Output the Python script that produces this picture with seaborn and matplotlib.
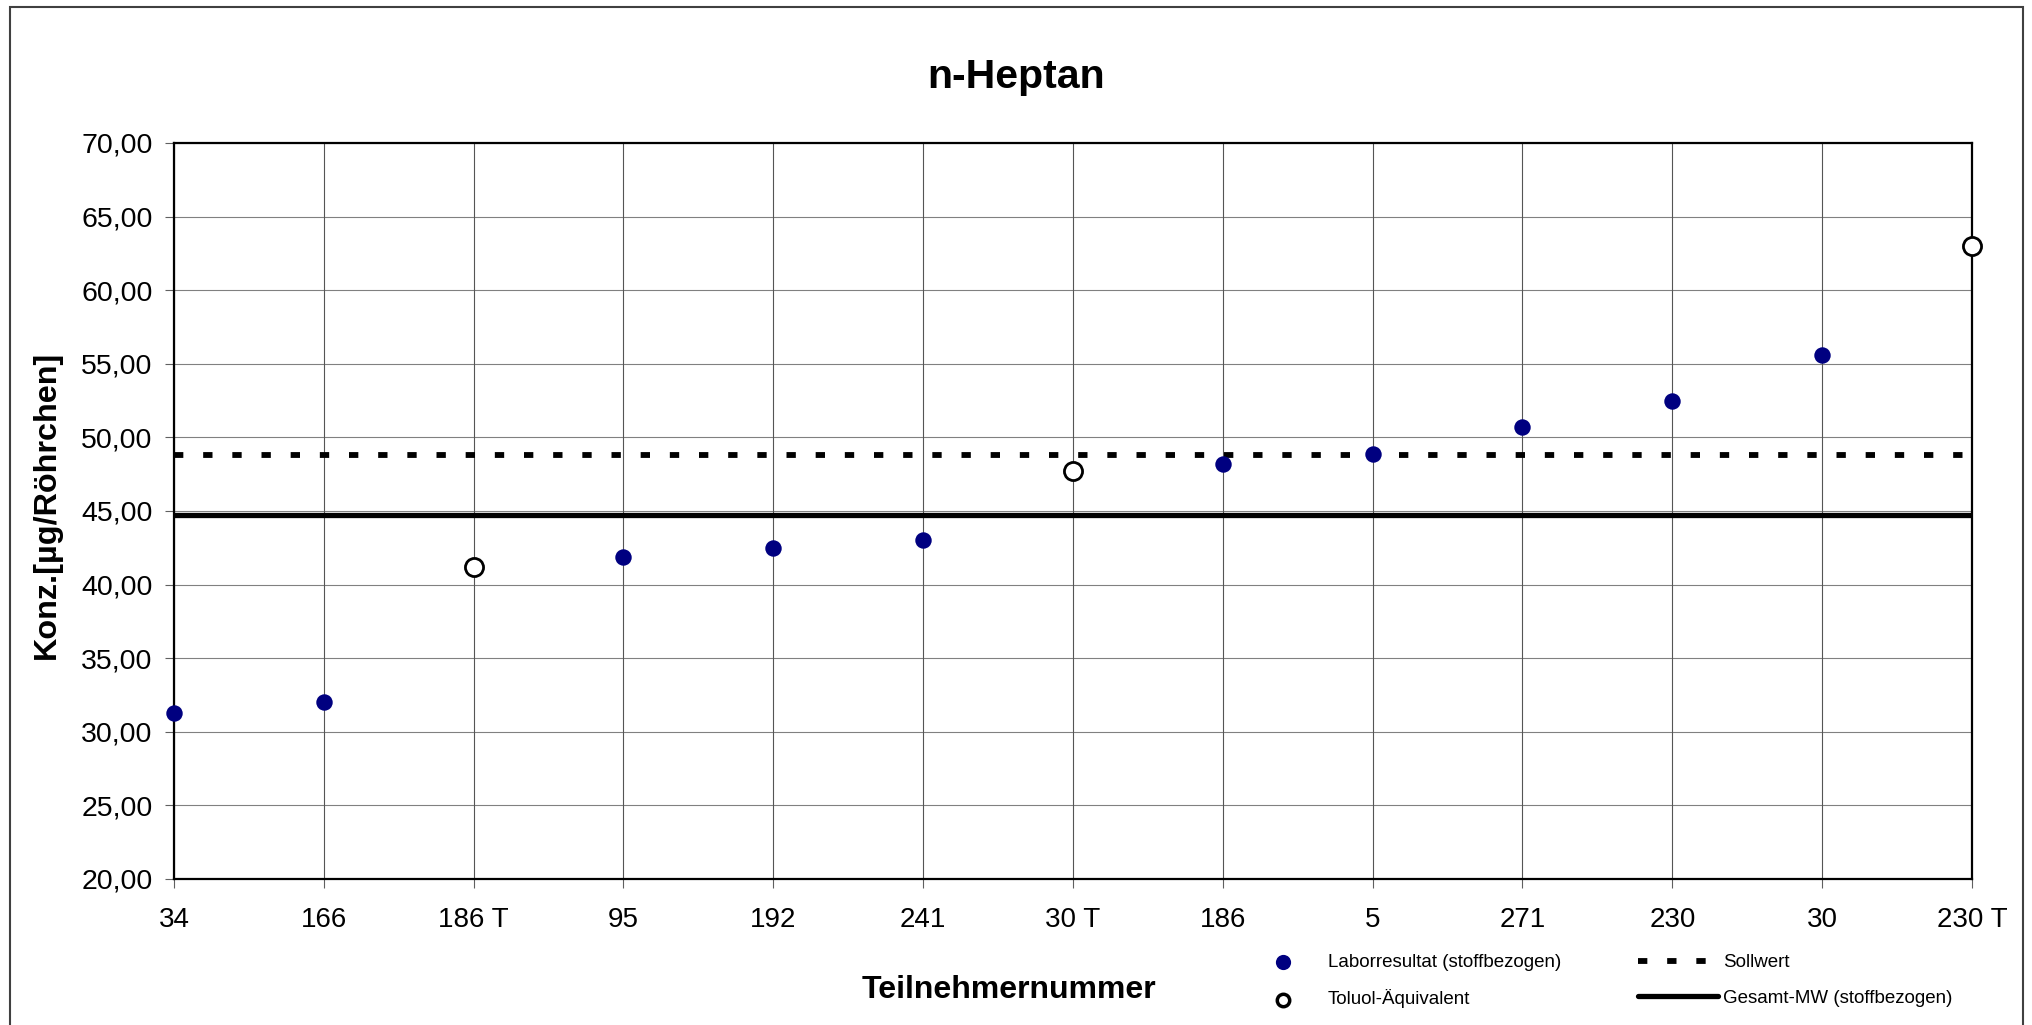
import numpy as np
import pandas as pd
import matplotlib
matplotlib.use("Agg")
import matplotlib.pyplot as plt
from matplotlib.patches import Rectangle
import seaborn as sns

# data
teilnehmer = ['34', '166', '186 T', '95', '192', '241', '30 T', '186', '5',
              '271', '230', '30', '230 T']
konz = [31.3, 32.0, 41.2, 41.9, 42.5, 43.0, 47.7, 48.2, 48.9,
        50.7, 52.5, 55.6, 63.0]
typ = ['Labor', 'Labor', 'Toluol', 'Labor', 'Labor', 'Labor', 'Toluol', 'Labor', 'Labor',
       'Labor', 'Labor', 'Labor', 'Toluol']
sollwert = 48.8
gesamt_mw = 44.7
y_ticks = [20, 25, 30, 35, 40, 45, 50, 55, 60, 65, 70]

df = pd.DataFrame({'teilnehmer': teilnehmer, 'konz': konz, 'typ': typ})
df['pos'] = np.arange(len(df))

sns.set_style("white")
plt.rcParams['font.family'] = ['Liberation Sans', 'DejaVu Sans']
plt.rcParams['text.color'] = 'black'
plt.rcParams['xtick.color'] = 'black'
plt.rcParams['ytick.color'] = 'black'

W, H = 2033, 1025
fig = plt.figure(figsize=(W / 100, H / 100), dpi=100)
ax = fig.add_axes([174 / W, 1 - 879 / H, (1972 - 174) / W, (879 - 143) / H])

# outer chart frame
fig.patches.append(Rectangle((10 / W, -0.05), (2023 - 10) / W, 1.05 - 7 / H,
                             transform=fig.transFigure, fill=False,
                             edgecolor='#404040', lw=1.5))

# grid
for y in y_ticks:
    ax.axhline(y, color='#808080', lw=0.8, zorder=1)
for x in df['pos']:
    ax.axvline(x, color='#555555', lw=0.8, zorder=1)

# reference lines
ax.axhline(sollwert, color='black', lw=4.2, ls=(0, (1.6, 3.4)),
           dash_capstyle='butt', zorder=3, label='Sollwert')
ax.axhline(gesamt_mw, color='black', lw=3.8, zorder=3,
           label='Gesamt-MW (stoffbezogen)')

lab = df[df['typ'] == 'Labor']
tol = df[df['typ'] == 'Toluol']
sns.scatterplot(data=lab, x='pos', y='konz', ax=ax, color='#000080', s=140,
                linewidth=0, zorder=5, clip_on=False,
                label='Laborresultat (stoffbezogen)')
sns.scatterplot(data=tol, x='pos', y='konz', ax=ax, facecolor='white',
                edgecolor='black', s=170, linewidth=2, zorder=5, clip_on=False,
                label='Toluol-Äquivalent')

ax.set_xlim(0, len(df) - 1)
ax.set_ylim(20, 70)
ax.set_xticks(df['pos'])
ax.set_xticklabels(teilnehmer, fontsize=20)
ax.set_yticks(y_ticks)
ax.set_yticklabels([f"{v:.2f}".replace('.', ',') for v in y_ticks], fontsize=20.5)
ax.tick_params(axis='both', direction='out', length=6.5, width=0.8,
               color='#606060', left=True, bottom=True)
ax.tick_params(axis='y', pad=9)
ax.tick_params(axis='x', pad=14)
ax.set_xlabel('')
ax.set_ylabel('')
for sp in ax.spines.values():
    sp.set_color('black')
    sp.set_linewidth(1.6)
    sp.set_zorder(4)

# texts
fig.text(0.5, 1 - 88 / H, 'n-Heptan', ha='center', va='baseline',
         fontsize=29.5, fontweight='bold')
fig.text(1009 / W, 1 - 998 / H, 'Teilnehmernummer', ha='center', va='baseline',
         fontsize=23, fontweight='bold')
fig.text(47 / W, 1 - 505 / H, 'Konz.[µg/Röhrchen]', ha='center', va='center',
         rotation=90, fontsize=23.3, fontweight='bold')

# legend (column-wise: markers then lines)
handles, labels = ax.get_legend_handles_labels()
order = [labels.index('Laborresultat (stoffbezogen)'), labels.index('Toluol-Äquivalent'),
         labels.index('Sollwert'), labels.index('Gesamt-MW (stoffbezogen)')]
leg = ax.legend([handles[i] for i in order], [labels[i] for i in order],
                ncol=2, frameon=False, fontsize=13.5,
                loc='upper left', bbox_to_anchor=(1243 / W, 1 - 954 / H),
                bbox_transform=fig.transFigure, borderpad=0, borderaxespad=0,
                handlelength=4.27, handletextpad=0.27, columnspacing=4.1,
                labelspacing=0.98)
leg.legend_handles[0].set_sizes([120])
leg.legend_handles[1].set_sizes([80])
leg.legend_handles[1].set_linewidth(2.5)

fig.savefig('out.png', dpi=100)
